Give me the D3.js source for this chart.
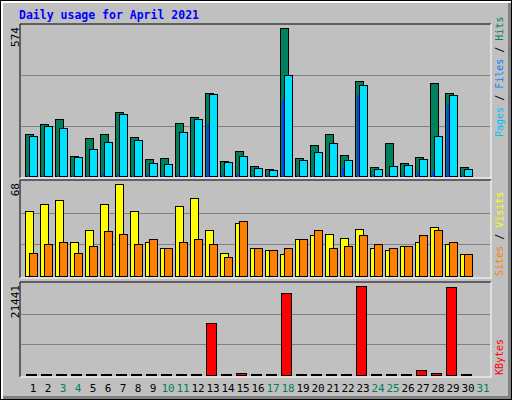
<!DOCTYPE html>
<html><head><meta charset="utf-8">
<script src="https://cdn.jsdelivr.net/npm/d3@7"></script>
<style>body{margin:0;background:#fff}svg{display:block}</style>
</head><body><svg id="c" width="512" height="400"></svg>
<script>
const days = d3.range(1, 31);
const dayLabels = d3.range(1, 32).map(String);
const weekend = [3,4,10,11,17,18,24,25,31];
const hits  = [162,200,220,76,146,162,247,150,65,69,204,228,321,57,96,37,26,574,69,119,162,80,367,34,127,49,72,359,321,34];
const files = [154,193,185,72,103,131,239,138,49,45,169,220,317,53,76,30,22,390,61,92,127,61,352,26,37,41,65,154,313,26];
const pages = [2,2,2,2,2,10,6,2,8,2,2,2,200,2,8,2,2,293,2,2,8,30,313,2,2,2,14,14,274,2];
const visits = [48,53,56,25,34,53,68,48,25,21,52,58,34,17,39,21,19,16,27,30,31,28,35,21,19,22,25,36,24,16];
const sites  = [17,24,25,17,22,33,31,24,27,21,25,27,24,14,41,21,19,21,27,34,21,22,30,24,21,22,30,34,25,16];
const kbytes = [80,80,80,80,80,80,80,80,80,80,80,80,12500,80,470,80,80,19790,80,80,80,80,21441,80,80,80,1180,470,21200,80];

const svg = d3.select("#c");
const F = "DejaVu Sans Mono, monospace";
svg.append("rect").attr("width",512).attr("height",400).attr("fill","#000");
svg.append("rect").attr("x",1).attr("y",1).attr("width",510).attr("height",398).attr("fill","#fff");
svg.append("rect").attr("x",3).attr("y",3).attr("width",508).attr("height",396).attr("fill","#808080");
svg.append("rect").attr("x",3).attr("y",3).attr("width",505).attr("height",393).attr("fill","#c0c0c0");
svg.append("text").attr("x",19).attr("y",19).attr("font-family",F).attr("font-weight","bold").attr("font-size",11.5).attr("fill","#0000ff").text("Daily usage for April 2021");

const x = d3.scaleBand().domain(d3.range(1,32)).range([25,490]).paddingInner(0);
function frame(y0,y1){
  svg.append("line").attr("x1",20).attr("x2",491).attr("y1",y0).attr("y2",y0).attr("stroke","#000");
  svg.append("line").attr("x1",20).attr("x2",20).attr("y1",y0).attr("y2",y1).attr("stroke","#000");
  svg.append("line").attr("x1",20).attr("x2",492).attr("y1",y1).attr("y2",y1).attr("stroke","#fff");
  svg.append("line").attr("x1",491).attr("x2",491).attr("y1",y0).attr("y2",y1).attr("stroke","#fff");
}
function panel(y0,y1,max){
  frame(y0-1,y1+2);
  const y = d3.scaleLinear().domain([0,max]).range([y1,y0+3]);
  [1/3,2/3].forEach(f=>{
    const yy = Math.round(y1-(y1-y0)*f)+0.5;
    svg.append("line").attr("x1",21).attr("x2",490).attr("y1",yy).attr("y2",yy).attr("stroke","#808080");
  });
  svg.append("text").attr("transform",`translate(19,${y0+2}) rotate(-90)`).attr("text-anchor","end")
    .attr("font-family",F).attr("font-size",11).attr("fill","#000").text(max);
  return y;
}
function bars(y, data, off, w, col, base, stroke){
  svg.append("g").selectAll("rect").data(data).join("rect")
    .attr("x",(d,i)=>x(i+1)+off+0.5).attr("width",w)
    .attr("y",d=>Math.min(base-1,Math.round(y(d)))+0.5).attr("height",d=>Math.max(1,base-Math.round(y(d))))
    .attr("fill",col).attr("stroke",stroke||"#000").attr("stroke-width",1);
}
const y1 = panel(25,176,574);
bars(y1,hits,0,8,"#00805c",176);
bars(y1,files,4,8,"#00e0ff",176);
bars(y1,pages,2,1,"#0040ff",176,"#0040ff");
const y2 = panel(181,276,68);
bars(y2,visits,0,8,"#ffff00",276);
bars(y2,sites,4,8,"#ff8000",276);
const y3 = panel(283,375,21441);
bars(y3,kbytes,1,10,"#ff0000",375);

svg.append("g").selectAll("text").data(dayLabels).join("text")
  .attr("x",d=>x(+d)+8).attr("y",392).attr("text-anchor","middle")
  .attr("font-family",F).attr("font-size",11)
  .attr("fill",d=>weekend.includes(+d)?"#00805c":"#000").text(d=>d);

function legend(yBottom, parts){
  const t = svg.append("text").attr("transform",`translate(503,${yBottom}) rotate(-90)`)
    .attr("font-family",F).attr("font-size",10).attr("textLength",0);
  parts.forEach(p=>t.append("tspan").attr("fill",p[1]).text(p[0]));
}
legend(137,[["Pages","#00c0ff"],[" / ","#000"],["Files","#0080ff"],[" / ","#000"],["Hits","#00805c"]]);
legend(276,[["Sites","#ff8000"],[" / ","#000"],["Visits","#ffff00"]]);
legend(375,[["KBytes","#ff0000"]]);
</script></body></html>
